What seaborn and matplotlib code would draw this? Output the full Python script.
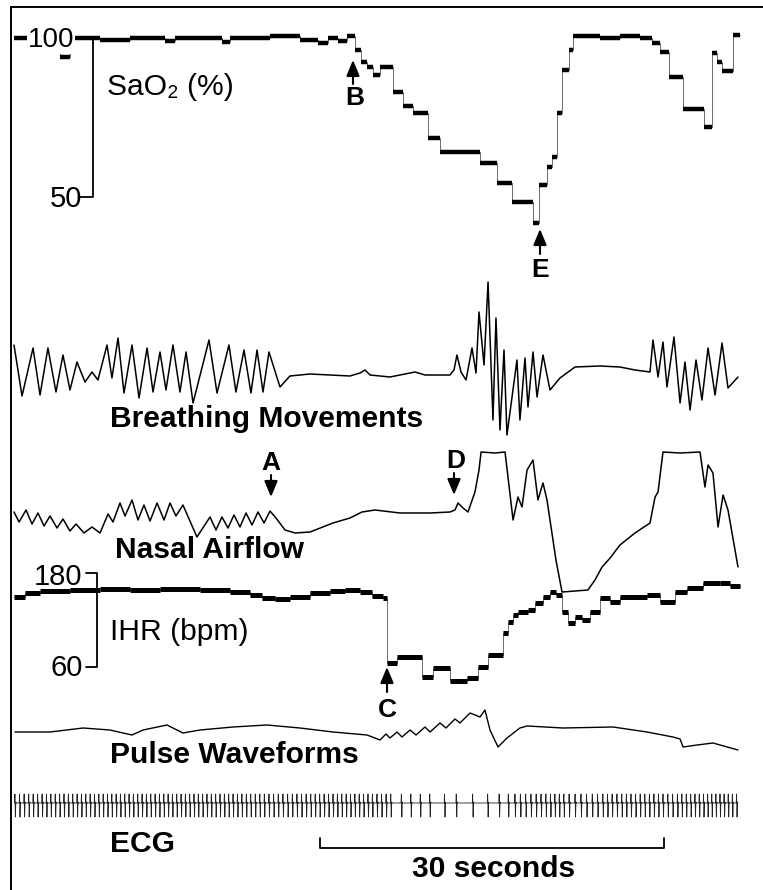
import numpy as np
import matplotlib
matplotlib.use("Agg")
import matplotlib.pyplot as plt
import seaborn as sns

# ------------------------------------------------------------------ data
# time in seconds from the start of the record
sao2_time = [0.00, 4.01, 4.88, 7.50, 10.11, 13.16, 14.04, 18.13, 18.83, 22.32,
             24.93, 26.50, 27.38, 28.25, 29.03, 29.73, 30.25, 30.78, 31.30, 31.91,
             33.04, 33.91, 34.79, 36.09, 37.14, 40.63, 42.11, 43.42, 45.25, 45.77,
             46.47, 46.91, 47.34, 47.78, 48.39, 48.74, 51.09, 52.83, 54.58, 55.62,
             56.32, 57.10, 58.33, 60.16, 60.85, 61.29, 61.73, 62.69, 63.30]
sao2_pct = [100.0, 94.0, 100.0, 99.5, 100.0, 99.0, 100.0, 98.8, 100.0, 100.5,
            99.5, 98.5, 100.0, 99.0, 100.5, 96.2, 92.5, 90.9, 88.5, 90.9,
            83.0, 78.6, 76.4, 68.6, 64.2, 60.7, 54.4, 48.4, 41.8, 53.8,
            59.4, 62.6, 76.4, 89.9, 96.2, 100.6, 100.0, 100.6, 100.0, 98.4,
            95.6, 87.7, 77.7, 72.0, 95.3, 92.5, 89.6, 100.9, 100.9]

breath_time = [0.00, 0.70, 1.66, 2.27, 2.96, 3.66, 4.27, 4.88, 5.49, 6.19, 6.80, 7.32,
               8.11, 8.54, 9.07, 9.59, 10.29, 10.90, 11.60, 12.12, 12.73, 13.25, 13.86,
               14.47, 15.00, 15.61, 17.00, 17.70, 18.74, 19.35, 20.05, 20.66, 21.19,
               21.71, 22.23, 23.19, 24.06, 25.81, 27.55, 29.29, 30.17, 30.60, 31.04,
               32.78, 33.65, 34.53, 34.96, 35.83, 38.01, 38.36, 38.62, 38.97, 39.41,
               39.93, 40.28, 40.54, 40.98, 41.33, 41.76, 42.02, 42.37, 42.72, 42.98,
               43.85, 44.11, 44.55, 44.81, 45.25, 45.60, 46.12, 46.73, 47.60, 48.91,
               51.09, 52.83, 54.14, 55.45, 55.71, 56.15, 56.58, 56.93, 57.54, 58.07,
               58.50, 58.94, 59.46, 59.98, 60.51, 61.12, 61.73, 62.25, 63.12]
breath_amp = [30, -21, 27, -20, 27, -17, 20, -15, 13, -7, 3, -5,
              30, -3, 37, -18, 30, -23, 27, -17, 23, -15, 30,
              -17, 23, -28, 35, -18, 30, -17, 25, -18, 25,
              -17, 23, -12, -1, 1, 0, -1, 2, 5, 0,
              -2, 0, 2, 3, 0, 0, 5, 20, 3, -5,
              27, 2, 63, 10, 93, -45, 57, -55, 25, -60,
              15, -45, 17, -32, 23, -22, 20, -15, -3, 8,
              9, 8, 5, 3, 35, -2, 33, -12, 38, -28,
              13, -35, 15, -25, 27, -20, 32, -13, -2]

nasal_time = [0.00, 0.44, 1.05, 1.57, 2.09, 2.62, 3.14, 3.75, 4.27, 4.88, 5.41, 6.10,
              6.80, 7.50, 8.20, 8.63, 9.24, 9.68, 10.29, 10.81, 11.33, 11.86, 12.47,
              13.08, 13.60, 14.12, 14.73, 15.95, 17.09, 17.61, 18.13, 18.66, 19.18,
              19.70, 20.23, 20.75, 21.27, 21.80, 22.32, 22.84, 23.63, 24.50, 25.81,
              27.81, 29.29, 30.34, 31.47, 33.65, 36.27, 38.01, 38.45, 38.71, 39.15,
              39.58, 40.19, 40.54, 40.72, 41.94, 42.81, 43.51, 43.94, 44.29, 44.73,
              45.25, 45.68, 46.12, 46.47, 47.25, 47.78, 50.04, 50.65, 51.27, 51.97,
              52.83, 54.14, 55.45, 55.89, 56.15, 56.58, 58.07, 59.81, 60.24, 60.51,
              60.94, 61.38, 61.82, 62.25, 63.12]
nasal_amp = [1, -9, 3, -11, 0, -13, -3, -15, -6, -18, -11, -20,
             -14, -20, -1, -9, 10, -3, 13, -7, 8, -8, 10,
             -7, 10, -3, 8, -24, -4, -17, -4, -15, -2,
             -14, 0, -12, 1, -10, 2, -5, -17, -20, -19,
             -10, -5, 1, 3, 0, 0, 1, 3, 10, 5,
             1, 21, 43, 61, 60, 61, -7, 16, 6, 43,
             53, 13, 30, 13, -47, -79, -77, -67, -54, -45,
             -32, -20, -10, 16, 21, 61, 60, 61, 26, 48,
             40, -14, 18, 3, -54]

ihr_time = [0.00, 0.96, 2.27, 4.88, 7.50, 10.11, 12.73, 16.22, 18.83, 20.58,
            21.62, 22.76, 24.06, 25.81, 27.55, 28.86, 30.17, 31.21, 32.17, 32.52,
            33.39, 35.57, 36.53, 38.01, 39.50, 40.45, 41.33, 42.63, 43.07, 43.50,
            43.94, 44.81, 45.42, 46.12, 46.73, 47.25, 47.78, 48.30, 48.91, 49.52,
            50.22, 51.09, 51.96, 52.83, 55.19, 56.32, 57.63, 58.67, 60.07, 61.55,
            62.42, 63.30]
ihr_bpm = [149.4, 154.5, 157.0, 158.3, 159.6, 158.3, 159.6, 158.3, 155.7, 151.9,
           148.1, 146.8, 149.4, 154.5, 157.0, 158.3, 155.7, 150.6, 148.1, 65.0,
           72.7, 46.6, 58.7, 42.0, 45.8, 59.9, 75.2, 103.4, 117.4, 126.4,
           130.2, 132.8, 141.7, 149.4, 155.7, 151.9, 130.2, 116.1, 123.8, 120.0,
           130.2, 148.1, 143.0, 149.4, 151.9, 143.0, 155.7, 160.8, 167.2, 167.2,
           163.4, 162.0]

pulse_time = [0.09, 3.14, 6.02, 8.37, 9.50, 10.29, 11.25, 13.34, 14.21, 14.73,
              16.22, 19.09, 22.06, 24.93, 27.81, 30.78, 31.91, 32.43, 32.78, 33.39,
              33.83, 34.53, 35.05, 35.83, 36.27, 37.14, 37.66, 38.45, 38.88, 39.76,
              40.63, 41.06, 41.50, 42.20, 42.98, 44.11, 44.73, 47.86, 52.22, 55.19,
              57.45, 58.07, 58.33, 59.55, 60.94, 63.12]
pulse_amp = [-2, -2, 2, 0, -3, -5, 0, 5, 0, -3,
             0, 3, 5, 2, -2, -5, -10, -4, -8, -2,
             -7, 0, -5, 3, -2, 7, 2, 11, 7, 17,
             13, 20, 0, -17, -8, 2, 4, 2, 3, -2,
             -7, -9, -17, -15, -13, -20]

# one ECG complex (time offset in s, amplitude); beats follow the IHR series
ecg_offsets = [0.00, 0.03, 0.07, 0.11, 0.15]
ecg_shape = [0, 9, -14, 1, 0]

labels = {"sao2": "SaO₂ (%)", "breath": "Breathing Movements",
          "nasal": "Nasal Airflow", "ihr": "IHR (bpm)",
          "pulse": "Pulse Waveforms", "ecg": "ECG"}
scale_seconds = 30

# ------------------------------------------------------------------ layout
sns.set_theme(style="white")
plt.rcParams['font.family'] = ['Liberation Sans', 'DejaVu Sans']
plt.rcParams['text.color'] = 'black'

W, H = 763, 890
PX_PER_S = 11.47
X0 = 14
XLIM = (-X0 / PX_PER_S, (W - X0) / PX_PER_S)

fig = plt.figure(figsize=(W / 100, H / 100), dpi=100)
fig.patch.set_facecolor("white")


def track(name, y_ref, v_ref, px_per_unit):
    ax = fig.add_axes([0, 0, 1, 1], label=name)
    ax.set_xlim(*XLIM)
    ax.set_ylim(v_ref + (y_ref - H) / px_per_unit, v_ref + y_ref / px_per_unit)
    ax.axis("off")
    ax.patch.set_alpha(0)
    return ax


def step_trace(ax, t, v, thick):
    t = np.asarray(t)
    v = np.asarray(v)
    sns.lineplot(x=t, y=v, ax=ax, color="#555555", lw=0.6,
                 drawstyle="steps-post", sort=False, estimator=None)
    ax.hlines(v[:-1], t[:-1], t[1:], colors="black", lw=thick)


def line_trace(ax, t, v, lw=1.1):
    sns.lineplot(x=np.asarray(t), y=np.asarray(v), ax=ax, color="black",
                 lw=lw, sort=False, estimator=None)


ax_sao2 = track("sao2", 38, 100, 3.18)
ax_br = track("breath", 375, 0, 1.0)
ax_na = track("nasal", 513, 0, 1.0)
ax_ihr = track("ihr", 573, 180, 94 / 120)
ax_pu = track("pulse", 730, 0, 1.0)
ax_ecg = track("ecg", 803, 0, 1.0)

# SaO2
step_trace(ax_sao2, sao2_time, sao2_pct, 3.2)
t_bar = (93 - X0) / PX_PER_S
ax_sao2.plot([(75 - X0) / PX_PER_S, t_bar, t_bar, (80 - X0) / PX_PER_S],
             [100, 100, 50, 50], color="black", lw=1.3)

# breathing, nasal airflow
line_trace(ax_br, breath_time, breath_amp)
line_trace(ax_na, nasal_time, nasal_amp)

# IHR
step_trace(ax_ihr, ihr_time, ihr_bpm, 3.6)
t_bar2 = (97 - X0) / PX_PER_S
ax_ihr.plot([(86 - X0) / PX_PER_S, t_bar2, t_bar2, (86 - X0) / PX_PER_S],
            [180, 180, 60, 60], color="black", lw=1.3)

# pulse
line_trace(ax_pu, pulse_time, pulse_amp, lw=1.0)

# ECG: complexes placed at the instantaneous rate of the IHR series
ihr_t = np.asarray(ihr_time)
ihr_v = np.asarray(ihr_bpm)
beats = []
tb = 0.05
while tb < ihr_t[-1] - 0.15:
    beats.append(tb)
    i = max(np.searchsorted(ihr_t, tb, side="right") - 1, 0)
    tb += 60.0 / ihr_v[i]
ecg_t = np.concatenate([b + np.asarray(ecg_offsets) for b in beats])
ecg_v = np.tile(ecg_shape, len(beats))
sns.lineplot(x=ecg_t, y=ecg_v, ax=ax_ecg, color="#222222", lw=0.6,
             sort=False, estimator=None)

# 30-second scale bar
t0 = (320 - X0) / PX_PER_S
ax_ecg.plot([t0, t0, t0 + scale_seconds, t0 + scale_seconds],
            [-35, -45, -45, -35], color="black", lw=1.3)

# ------------------------------------------------------------------ overlay text
ax_o = fig.add_axes([0, 0, 1, 1], label="overlay")
ax_o.set_xlim(0, W)
ax_o.set_ylim(H, 0)
ax_o.axis("off")
ax_o.patch.set_alpha(0)

# frame
ax_o.plot([11, 11], [7, H], color="black", lw=1.4)
ax_o.plot([11, W], [7, 7], color="black", lw=1.4)

FS = 21.6
TXT = dict(color="black", va="baseline")
ax_o.text(28, 47, "100", fontsize=20, ha="left",
          bbox=dict(fc="white", ec="none", pad=0.5), **TXT)
ax_o.text(82, 207, "50", fontsize=21, ha="right", **TXT)
ax_o.text(107, 95, labels["sao2"], fontsize=FS, ha="left", **TXT)
ax_o.text(110, 427, labels["breath"], fontsize=FS, fontweight="bold", ha="left", **TXT)
ax_o.text(115, 558, labels["nasal"], fontsize=FS, fontweight="bold", ha="left", **TXT)
ax_o.text(82, 585, "180", fontsize=21, ha="right", **TXT)
ax_o.text(83, 676, "60", fontsize=21, ha="right", **TXT)
ax_o.text(110, 640, labels["ihr"], fontsize=FS, ha="left", **TXT)
ax_o.text(110, 763, labels["pulse"], fontsize=FS, fontweight="bold", ha="left", **TXT)
ax_o.text(110, 852, labels["ecg"], fontsize=FS, fontweight="bold", ha="left", **TXT)
ax_o.text(412, 877, f"{scale_seconds} seconds", fontsize=FS, fontweight="bold",
          ha="left", **TXT)

LET = 19
for letter, x, yb in [("A", 271, 470), ("B", 355, 105), ("C", 387, 717),
                      ("D", 456, 468), ("E", 540, 277)]:
    ax_o.text(x, yb, letter, fontsize=LET, fontweight="bold", ha="center", **TXT)


def arrow(x, y_from, y_to):
    ax_o.annotate("", xy=(x, y_to), xytext=(x, y_from),
                  arrowprops=dict(arrowstyle="-|>,head_length=0.6,head_width=0.25",
                                  lw=1.5, color="black", shrinkA=0, shrinkB=0,
                                  mutation_scale=16))


arrow(271, 475, 497)
arrow(454, 473, 495)
arrow(353, 84, 60)
arrow(540, 254, 229)
arrow(387, 692, 667)

fig.savefig("out.png", dpi=100, facecolor="white")
